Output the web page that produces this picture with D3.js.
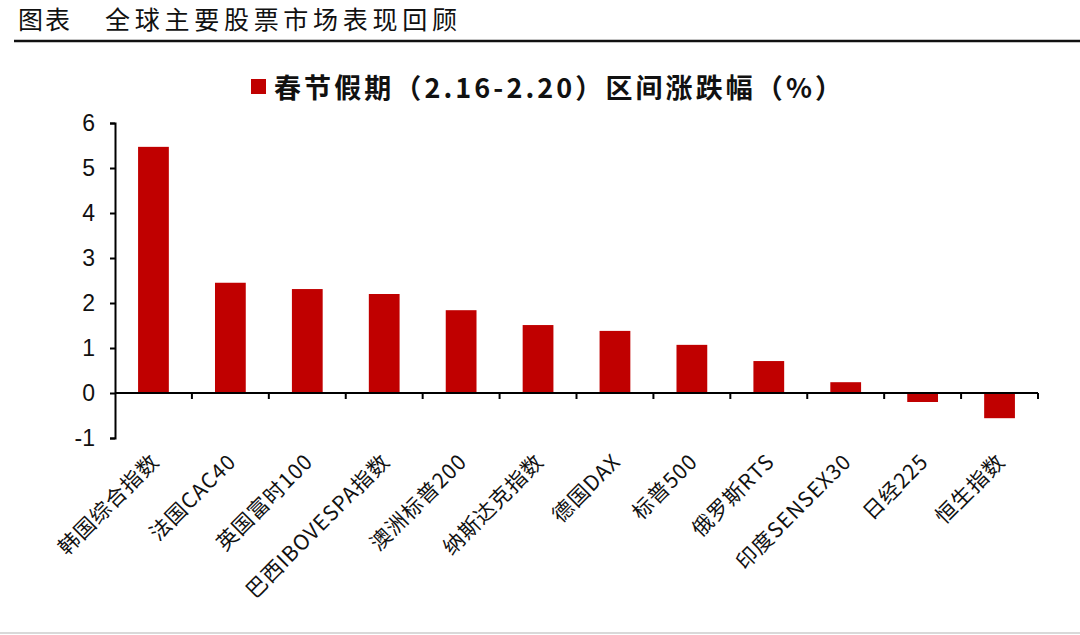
<!DOCTYPE html>
<html><head><meta charset="utf-8">
<script src="https://cdn.jsdelivr.net/npm/d3@7"></script>
<style>body{margin:0;background:#fff;}</style>
</head><body>
<svg id="c" width="1080" height="635"></svg>
<script>
const categories = ["韩国综合指数","法国CAC40","英国富时100","巴西IBOVESPA指数","澳洲标普200","纳斯达克指数","德国DAX","标普500","俄罗斯RTS","印度SENSEX30","日经225","恒生指数"];
const values = [5.47, 2.45, 2.31, 2.2, 1.84, 1.51, 1.38, 1.07, 0.71, 0.24, -0.2, -0.56];
const yTicks = [-1, 0, 1, 2, 3, 4, 5, 6];
const seriesName = "春节假期（2.16-2.20）区间涨跌幅（%）";
const titleLabel = "图表";
const title = "全球主要股票市场表现回顾";

const svg = d3.select("#c");
const red = "#c00000";

// header
svg.append("text").attr("x", 18).attr("y", 29)
  .attr("font-family", "'Noto Sans CJK SC', serif").attr("font-size", 25).attr("fill", "#111")
  .attr("textLength", 52).attr("lengthAdjust", "spacing")
  .text(titleLabel);
svg.append("text").attr("x", 105).attr("y", 29)
  .attr("font-family", "'Noto Sans CJK SC', serif").attr("font-size", 25).attr("fill", "#111")
  .attr("textLength", 352).attr("lengthAdjust", "spacing")
  .text(title);
svg.append("line").attr("x1", 14).attr("x2", 1080).attr("y1", 41).attr("y2", 41)
  .attr("stroke", "#111").attr("stroke-width", 2.5);
svg.append("line").attr("x1", 0).attr("x2", 1080).attr("y1", 633).attr("y2", 633)
  .attr("stroke", "#ccc").attr("stroke-width", 1.5);

// legend
svg.append("rect").attr("x", 251).attr("y", 79).attr("width", 15).attr("height", 15).attr("fill", red);
svg.append("text").attr("x", 274).attr("y", 98)
  .attr("font-family", "'Noto Sans CJK SC', 'Liberation Serif', serif").attr("font-weight", "bold")
  .attr("font-size", 27).attr("fill", "#111")
  .attr("textLength", 568).attr("lengthAdjust", "spacing")
  .text(seriesName);

const x = d3.scaleBand().domain(categories).range([115, 1038]).paddingInner(0.6).paddingOuter(0.3);
const y = d3.scaleLinear().domain([-1, 6]).range([438, 123]);

// bars
svg.append("g").selectAll("rect").data(values).join("rect")
  .attr("x", (d, i) => x(categories[i]))
  .attr("width", x.bandwidth())
  .attr("y", d => y(Math.max(0, d)))
  .attr("height", d => Math.abs(y(d) - y(0)))
  .attr("fill", red);

// y axis
const ya = svg.append("g").attr("transform", "translate(115,0)")
  .call(d3.axisLeft(y).tickValues(yTicks).tickSize(5).tickPadding(15).tickFormat(d => String(d)));
ya.select(".domain").attr("stroke", "#000").attr("stroke-width", 2);
ya.selectAll(".tick line").attr("stroke", "#000").attr("stroke-width", 2);
ya.selectAll(".tick text").attr("font-family", "Arial, 'Liberation Sans', sans-serif").attr("font-size", 23).attr("fill", "#111");

// x axis line at zero with boundary ticks
const x0 = 115, x1 = 1038;
svg.append("line").attr("x1", x0).attr("x2", x1).attr("y1", y(0)).attr("y2", y(0))
  .attr("stroke", "#000").attr("stroke-width", 2);
const bounds = d3.range(1, categories.length + 1).map(i => x0 + (x1 - x0) * i / categories.length);
svg.append("g").selectAll("line").data(bounds).join("line")
  .attr("x1", d => d).attr("x2", d => d).attr("y1", y(0)).attr("y2", y(0) + 6)
  .attr("stroke", "#000").attr("stroke-width", 2);

// x labels
svg.append("g").selectAll("text").data(categories).join("text")
  .attr("transform", d => `translate(${x(d) + x.bandwidth() / 2 + 7},${463}) rotate(-45)`)
  .attr("text-anchor", "end")
  .attr("font-family", "'Noto Sans CJK SC', sans-serif").attr("font-size", 21).attr("fill", "#111")
  .attr("letter-spacing", 1)
  .text(d => d);
</script>
</body></html>
